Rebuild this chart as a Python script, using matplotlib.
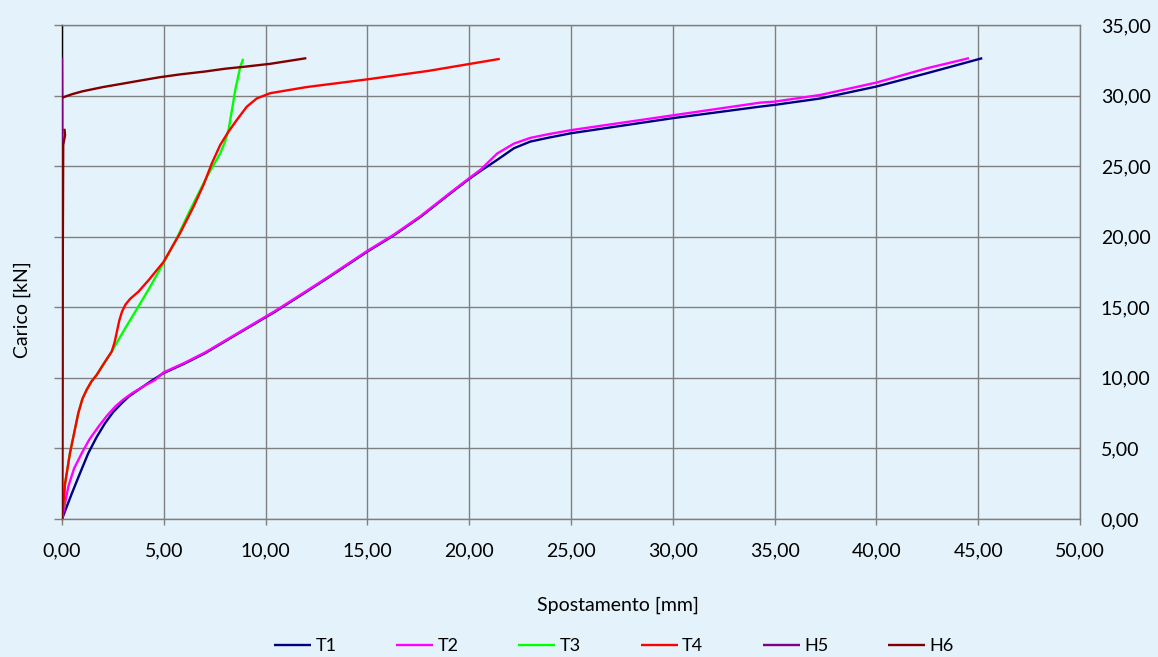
import numpy as np
import matplotlib
matplotlib.use('Agg')
import matplotlib.pyplot as plt
from matplotlib.ticker import FuncFormatter, MultipleLocator

plt.rcParams['font.family'] = ['Lato', 'DejaVu Sans']

# displacement [mm] and load [kN]
t1_x = [0, 0.48, 0.9, 1.29, 1.7, 2.11, 2.5, 2.93, 3.3, 3.75, 4.3, 4.98, 6.0, 7.03, 8.67, 10.48, 12.0,
        13.02, 15.0, 16.3, 17.6, 19.1, 20.0, 20.6, 21.38, 22.2, 23.0, 23.84, 25.0, 30.0, 34.3, 35.0,
        37.27, 40.0, 42.5, 45.2]
t1_y = [0, 1.8, 3.3, 4.66, 5.8, 6.78, 7.55, 8.2, 8.7, 9.15, 9.7, 10.33, 11.0, 11.75, 13.16, 14.7, 16.1,
        17.05, 18.95, 20.1, 21.4, 23.1, 24.1, 24.7, 25.45, 26.27, 26.74, 27.0, 27.33, 28.4, 29.22, 29.34,
        29.8, 30.64, 31.59, 32.65]

t2_x = [0, 0.31, 0.6, 0.97, 1.35, 1.79, 2.2, 2.61, 3.0, 3.43, 4.0, 4.57, 4.98, 6.0, 7.03, 8.67, 10.48,
        12.0, 13.02, 15.0, 16.3, 17.6, 19.1, 20.0, 20.56, 21.38, 22.2, 23.0, 23.84, 25.0, 30.0, 34.3,
        35.0, 37.27, 40.0, 42.5, 44.55]
t2_y = [0, 2.3, 3.6, 4.66, 5.65, 6.54, 7.3, 7.96, 8.45, 8.9, 9.4, 9.85, 10.38, 11.05, 11.8, 13.2, 14.75,
        16.15, 17.1, 19.0, 20.15, 21.45, 23.15, 24.15, 24.75, 25.9, 26.6, 27.0, 27.25, 27.55, 28.6, 29.5,
        29.57, 30.05, 30.92, 31.94, 32.65]

t3_x = [0, 0.15, 0.39, 0.8, 1.0, 1.21, 1.45, 1.7, 2.05, 2.44, 3.1, 3.75, 4.24, 4.98, 5.64, 6.3, 7.12,
        7.77, 8.0, 8.18, 8.35, 8.51, 8.76, 8.9]
t3_y = [0, 2.5, 4.66, 7.5, 8.5, 9.15, 9.75, 10.2, 11.0, 11.86, 13.5, 15.05, 16.23, 18.12, 19.9, 21.9,
        24.26, 25.9, 26.7, 27.57, 29.0, 30.4, 32.06, 32.6]

t4_x = [0, 0.15, 0.39, 0.8, 1.0, 1.21, 1.45, 1.7, 2.05, 2.44, 2.58, 2.7, 2.82, 2.95, 3.12, 3.35, 3.75,
        4.24, 4.98, 5.8, 6.46, 6.95, 7.36, 7.77, 8.18, 8.59, 9.08, 9.57, 10.23, 12.0, 15.0, 18.0, 21.5]
t4_y = [0, 2.5, 4.66, 7.5, 8.5, 9.15, 9.75, 10.2, 11.0, 11.86, 12.5, 13.3, 14.1, 14.7, 15.2, 15.6, 16.1,
        16.9, 18.2, 20.25, 22.13, 23.67, 25.2, 26.5, 27.45, 28.28, 29.22, 29.8, 30.17, 30.6, 31.15,
        31.75, 32.6]

h5_x = [0, 0.02, 0.02, 0.01, 0.0]
h5_y = [0, 10.0, 20.0, 30.0, 32.7]

h6_x = [0, 0.03, 0.06, 0.15, 0.12, np.nan, 0, 0.5, 1.0, 1.5, 2.0, 3.0, 3.83, 4.8, 5.8, 7.0, 8.0, 9.0,
        10.23, 12.0]
h6_y = [0, 15.0, 26.5, 27.2, 27.65, np.nan, 29.85, 30.1, 30.3, 30.45, 30.6, 30.85, 31.06, 31.3, 31.5,
        31.7, 31.9, 32.05, 32.25, 32.65]

series = [('T1', t1_x, t1_y, '#000080'),
          ('T2', t2_x, t2_y, '#FF00FF'),
          ('T3', t3_x, t3_y, '#00FF00'),
          ('T4', t4_x, t4_y, '#FF0000'),
          ('H5', h5_x, h5_y, '#800080'),
          ('H6', h6_x, h6_y, '#800000')]

bg = '#E4F3FB'
grid_col = '#7F7F7F'

fig = plt.figure(figsize=(11.58, 6.57), dpi=100, facecolor=bg)
ax = fig.add_axes([62 / 1158, 1 - 519 / 657, 1018 / 1158, 494 / 657])
ax.set_facecolor(bg)

for name, xs, ys, col in series:
    ax.plot(xs, ys, color=col, lw=1.7, label=name, zorder=3,
            solid_capstyle='butt', solid_joinstyle='round')

ax.set_xlim(0, 50)
ax.set_ylim(0, 35)
ax.xaxis.set_major_locator(MultipleLocator(5))
ax.yaxis.set_major_locator(MultipleLocator(5))
fmt = FuncFormatter(lambda v, p: f'{v:.2f}'.replace('.', ','))
ax.xaxis.set_major_formatter(fmt)
ax.yaxis.set_major_formatter(fmt)

ax.grid(True, color=grid_col, lw=1.0)
ax.set_axisbelow(True)

for s in ['top', 'right', 'bottom']:
    ax.spines[s].set_color(grid_col)
    ax.spines[s].set_linewidth(1.0)
ax.spines['left'].set_color('black')
ax.spines['left'].set_linewidth(1.0)

ax.tick_params(axis='x', direction='out', length=4.5, width=1, color=grid_col,
               labelsize=14, pad=12, labelcolor='black')
ax.tick_params(axis='y', direction='out', length=6, width=1, color=grid_col,
               left=True, right=False, labelleft=False, labelright=True,
               labelsize=14, pad=9, labelcolor='black')

ax.set_xlabel('Spostamento [mm]', fontsize=14)
ax.xaxis.set_label_coords(0.546, -0.158)
ax.set_ylabel('Carico [kN]', fontsize=14)
ax.yaxis.set_label_coords(-0.03, 0.423)

fig.legend(loc='center', bbox_to_anchor=(614 / 1158, 1 - 646 / 657), ncol=6, frameon=False,
           fontsize=13, handlelength=2.05, handletextpad=0.25, columnspacing=3.3)

fig.savefig('out.png', dpi=100, facecolor=bg)
